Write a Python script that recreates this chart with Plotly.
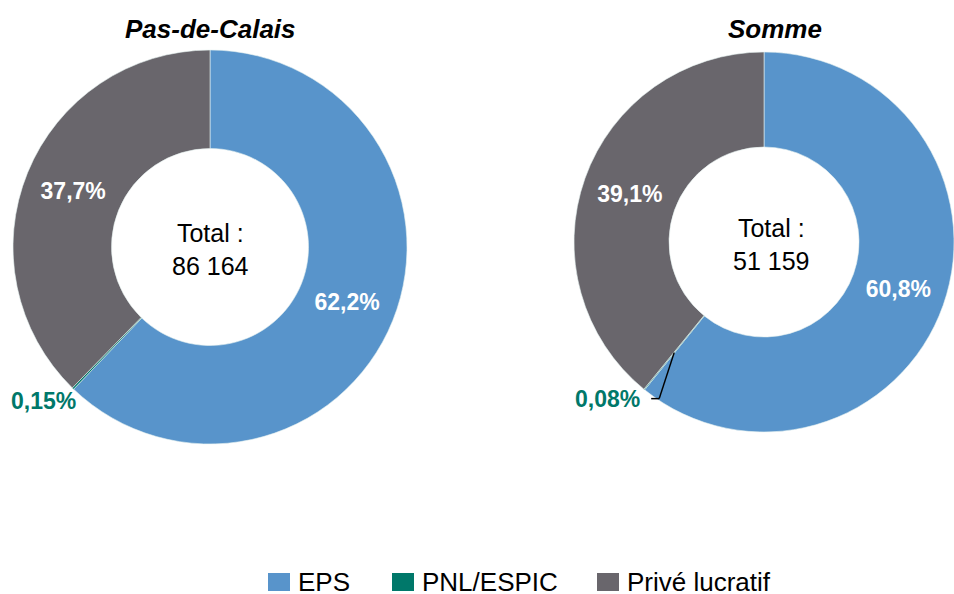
import math
import plotly.graph_objects as go

categories = ["EPS", "PNL/ESPIC", "Privé lucratif"]
colors = ["#5894CB", "#00786A", "#69666C"]

regions = ["Pas-de-Calais", "Somme"]
totals = ["86 164", "51 159"]
shares = [
    [62.2, 0.15, 37.7],
    [60.8, 0.08, 39.1],
]

W, H = 954, 594
# pie centres / radii in pixels (right donut is pushed against the edge)
centres = [(210, 247), (764, 242)]
radii = [197, 190]
# where the title / total texts sit (x)
text_x = [210, 771]
# legend swatch left edges (px) and row centre
legend_x = [268, 392, 597]
legend_y = 582

FONT = "Arial, Liberation Sans, sans-serif"


def fmt(v):
    s = f"{v:.2f}" if v < 1 else f"{v:.1f}"
    return "<b>" + s.replace(".", ",") + "%</b>"


def px(x, y):
    """pixel -> paper coords"""
    return x / W, 1 - y / H


fig = go.Figure()
annotations = []
shapes = []
for i, (reg, tot, vals) in enumerate(zip(regions, totals, shares)):
    cx, cy = centres[i]
    r = radii[i]
    x0, y1 = px(cx - r, cy - r)
    x1, y0 = px(min(cx + r, W), cy + r)
    fig.add_trace(go.Pie(
        labels=categories,
        values=vals,
        text=[fmt(v) for v in vals],
        textinfo="text",
        textposition=["inside", "none", "inside"],
        insidetextorientation="horizontal",
        textfont=dict(family=FONT, size=23, color="white"),
        marker=dict(colors=colors, line=dict(color="#E6F2F0", width=0.6)),
        hole=0.5,
        sort=False,
        direction="clockwise",
        rotation=0,
        domain=dict(x=[x0, x1], y=[y0, y1]),
        showlegend=False,
        hoverinfo="label+percent",
    ))
    tx, ty = px(text_x[i], cy + 3)
    annotations.append(dict(
        text=f"Total :<br>{tot}", x=tx, y=ty, xref="paper", yref="paper",
        xanchor="center", yanchor="middle",
        showarrow=False, font=dict(family=FONT, size=25, color="black"),
    ))
    hx, hy = px(text_x[i] + (0 if i == 0 else 4), 29)
    annotations.append(dict(
        text=f"<b><i>{reg}</i></b>", x=hx, y=hy, xref="paper", yref="paper",
        xanchor="center", yanchor="middle",
        showarrow=False, font=dict(family=FONT, size=26, color="black"),
    ))

    # label of the tiny PNL/ESPIC slice, outside the ring
    frac = (vals[0] + vals[1] / 2) / sum(vals)
    ang = frac * 2 * math.pi
    p_out = (cx + math.sin(ang) * r, cy - math.cos(ang) * r)
    if i == 0:
        lab = (p_out[0] + 5, p_out[1] + 12)
    else:
        p_in = (cx + math.sin(ang) * r * 0.75, cy - math.cos(ang) * r * 0.75)
        p_bend = (p_in[0] - 15, p_in[1] + 46)
        p_end = (p_bend[0] - 8, p_bend[1])
        for a, b in [(p_in, p_bend), (p_bend, p_end)]:
            ax, ay = px(*a)
            bx, by = px(*b)
            shapes.append(dict(type="line", xref="paper", yref="paper",
                               x0=ax, y0=ay, x1=bx, y1=by,
                               line=dict(color="black", width=1.5)))
        lab = (p_end[0] - 9, p_end[1])
    lx_, ly_ = px(*lab)
    annotations.append(dict(
        text=fmt(vals[1]), x=lx_, y=ly_, xref="paper", yref="paper",
        xanchor="right", yanchor="middle", showarrow=False,
        font=dict(family=FONT, size=23, color=colors[1]),
    ))

# legend drawn by hand (a plotly legend pushes the margins and shrinks the donuts)
for name, col, sx in zip(categories, colors, legend_x):
    ax0, ay0 = px(sx, legend_y - 9)
    ax1, ay1 = px(sx + 22, legend_y + 9)
    shapes.append(dict(type="rect", xref="paper", yref="paper",
                       x0=ax0, y0=ay0, x1=ax1, y1=ay1,
                       fillcolor=col, line=dict(width=0)))
    nx, ny = px(sx + 28, legend_y)
    annotations.append(dict(
        text=name, x=nx, y=ny, xref="paper", yref="paper",
        xanchor="left", yanchor="middle", showarrow=False,
        font=dict(family=FONT, size=26, color="black"),
    ))

fig.update_layout(
    width=W, height=H,
    margin=dict(l=0, r=0, t=0, b=0, autoexpand=False),
    paper_bgcolor="white",
    plot_bgcolor="white",
    font=dict(family=FONT, size=22, color="black"),
    annotations=annotations,
    shapes=shapes,
    showlegend=False,
)

fig.write_html(
    "out.html",
    config={"displayModeBar": False},
    post_script="document.body.style.margin='0px';document.body.style.overflow='hidden';",
)
